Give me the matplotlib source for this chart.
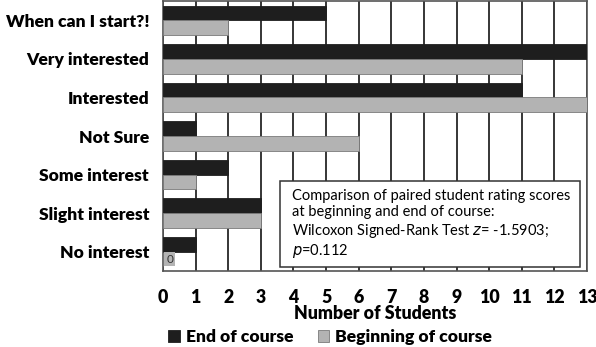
import matplotlib
matplotlib.use("Agg")
import matplotlib.pyplot as plt
from matplotlib.patches import Rectangle
import numpy as np

plt.rcParams["font.family"] = ["Lato", "DejaVu Sans"]

categories = ["When can I start?!", "Very interested", "Interested", "Not Sure",
              "Some interest", "Slight interest", "No interest"]
end_course = [5, 13, 11, 1, 2, 3, 1]
begin_course = [2, 11, 13, 6, 1, 3, 0]
xticks = list(range(0, 14))

fig = plt.figure(figsize=(5.96, 3.47), dpi=100)
ax = fig.add_axes([163 / 596, 1 - 271 / 347, 424 / 596, 270 / 347])

y = np.arange(len(categories))
h = 0.38
ax.barh(y - h / 2, end_course, h, color="#1e1e1e", edgecolor="#1e1e1e", lw=0.6,
        label="End of course", zorder=3)
ax.barh(y + h / 2, begin_course, h, color="#b3b3b3", edgecolor="#7a7a7a", lw=0.6,
        label="Beginning of course", zorder=3)
ax.text(0.1, y[-1] + h / 2, "0", fontsize=8.5, va="center", ha="left", color="#333333", zorder=4,
        bbox=dict(boxstyle="square,pad=0.15", facecolor="#b3b3b3", edgecolor="none"))

ax.set_xlim(0, 13)
ax.set_ylim(len(categories) - 0.5, -0.5)
ax.set_xticks(xticks)
ax.tick_params(axis="x", length=0, pad=13, labelsize=12.8)
ax.tick_params(axis="y", length=0, pad=10, labelsize=12.6)
for lbl in ax.get_xticklabels() + ax.get_yticklabels():
    lbl.set_fontweight("heavy")
ax.set_yticks(y)
ax.set_yticklabels(categories)
ax.grid(True, axis="x", color="black", lw=1.1, zorder=0)
for s in ax.spines.values():
    s.set_color("#555555")
    s.set_linewidth(1.2)
ax.set_xlabel("Number of Students", fontsize=12.8, fontweight="heavy", labelpad=-1)

# annotation box
box = Rectangle((280 / 596, 1 - 267 / 347), 300 / 596, 86 / 347, transform=fig.transFigure,
                facecolor="white", edgecolor="#333333", lw=1.1, zorder=5)
fig.add_artist(box)
fig.text(292 / 596, 1 - 189 / 347,
         "Comparison of paired student rating scores\nat beginning and end of course:\n"
         "Wilcoxon Signed-Rank Test $\\it{z}$= -1.5903;\n$\\it{p}$=0.112",
         fontsize=10.5, va="top", ha="left", linespacing=1.2, zorder=6)

fig.legend(loc="lower center", bbox_to_anchor=(0.554, -0.004), ncol=2, frameon=False,
           prop={"weight": "heavy", "size": 12.6}, handlelength=0.65, handleheight=0.65,
           handletextpad=0.35, columnspacing=1.4, borderpad=0.1, borderaxespad=0.1)

fig.savefig("out.png", dpi=100)
